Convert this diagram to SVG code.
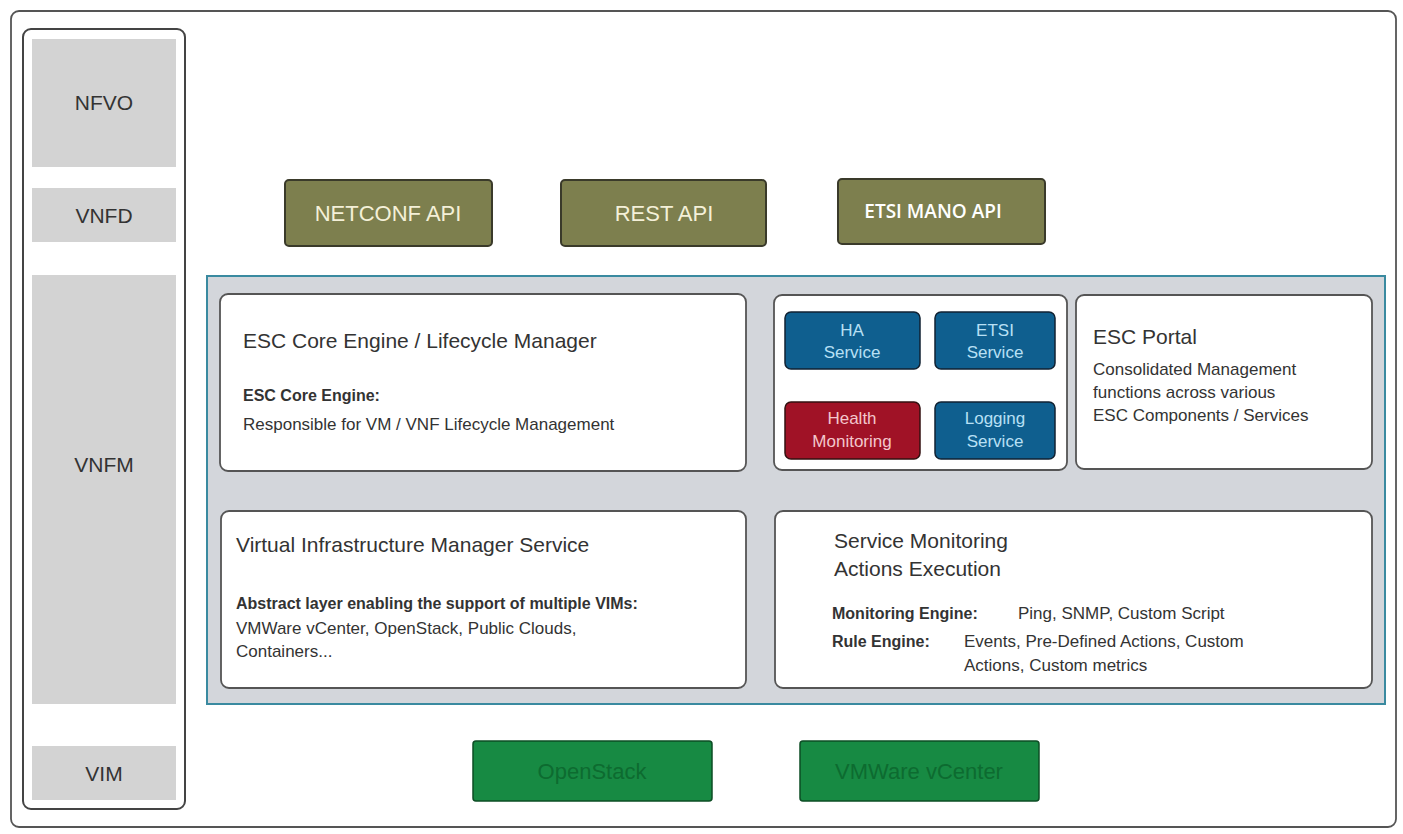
<svg xmlns="http://www.w3.org/2000/svg" width="1403" height="834" viewBox="0 0 1403 834">
<style>
text{font-family:"Liberation Sans",Arial,sans-serif;fill:#333}
.side{fill:#d3d3d3}
.sl{font-size:21px;text-anchor:middle}
.api{fill:#7d7f4e;stroke:#3a3a2a;stroke-width:2}
.apil{font-size:22px;fill:#f4f0d8;text-anchor:middle}
.card{fill:#fff;stroke:#555;stroke-width:1.8}
.blue{fill:#0f5f8f;stroke:#123;stroke-width:1.5}
.red{fill:#a01226;stroke:#311;stroke-width:1.5}
.sv{font-size:17px;fill:#b8e0f5;text-anchor:middle}
.rv{font-size:17px;fill:#f3c7cc;text-anchor:middle}
.vim{fill:#178a43;stroke:#0d4d25;stroke-width:1.5}
.viml{font-size:22px;fill:#0d6b30;text-anchor:middle}
.h{font-size:21px}
.b{font-size:16px;font-weight:bold}
.t{font-size:17px}
</style>
<rect x="11" y="11" width="1385" height="816" rx="8" fill="#fff" stroke="#555" stroke-width="1.8"/>
<rect x="23" y="29" width="162" height="780" rx="8" fill="#fff" stroke="#444" stroke-width="2"/>
<g id="nfvo"><rect class="side" x="32" y="39" width="144" height="128"/><text class="sl" x="104" y="110">NFVO</text></g>
<g id="vnfd"><rect class="side" x="32" y="188" width="144" height="54"/><text class="sl" x="104" y="223">VNFD</text></g>
<g id="vnfm"><rect class="side" x="32" y="275" width="144" height="429"/><text class="sl" x="104" y="472">VNFM</text></g>
<g id="vim"><rect class="side" x="32" y="746" width="144" height="54"/><text class="sl" x="104" y="781">VIM</text></g>
<g id="netconf"><rect class="api" x="285" y="180" width="207" height="66" rx="4"/><text class="apil" x="388" y="221">NETCONF API</text></g>
<g id="rest"><rect class="api" x="561" y="180" width="205" height="66" rx="4"/><text class="apil" x="664" y="221">REST API</text></g>
<g id="etsimano"><rect class="api" x="838" y="179" width="207" height="65" rx="4"/><text x="933" y="218" style="font-family:'Open Sans','DejaVu Sans',sans-serif;font-size:19px;font-weight:600;fill:#fff;text-anchor:middle">ETSI MANO API</text></g>
<rect id="vnfm-area" x="207" y="276" width="1178" height="428" fill="#d3d6db" stroke="#3a8aa0" stroke-width="2"/>
<g id="core"><rect class="card" x="220" y="294" width="526" height="177" rx="8"/>
<text class="h" x="243" y="348">ESC Core Engine / Lifecycle Manager</text>
<text class="b" x="243" y="401">ESC Core Engine:</text>
<text class="t" x="243" y="430">Responsible for VM / VNF Lifecycle Management</text></g>
<g id="services"><rect class="card" x="774" y="295" width="293" height="175" rx="8"/></g>
<g id="ha"><rect class="blue" x="785" y="312" width="135" height="57" rx="6"/><text class="sv" x="852" y="336">HA</text><text class="sv" x="852" y="358">Service</text></g>
<g id="etsi"><rect class="blue" x="935" y="312" width="120" height="57" rx="6"/><text class="sv" x="995" y="336">ETSI</text><text class="sv" x="995" y="358">Service</text></g>
<g id="health"><rect class="red" x="785" y="402" width="135" height="57" rx="6"/><text class="rv" x="852" y="424">Health</text><text class="rv" x="852" y="447">Monitoring</text></g>
<g id="logging"><rect class="blue" x="935" y="402" width="120" height="57" rx="6"/><text class="sv" x="995" y="424">Logging</text><text class="sv" x="995" y="447">Service</text></g>
<g id="portal"><rect class="card" x="1076" y="295" width="296" height="174" rx="8"/>
<text class="h" x="1093" y="344">ESC Portal</text>
<text class="t" x="1093" y="375">Consolidated Management</text>
<text class="t" x="1093" y="398">functions across various</text>
<text class="t" x="1093" y="421">ESC Components / Services</text></g>
<g id="vims"><rect class="card" x="221" y="511" width="525" height="177" rx="8"/>
<text class="h" x="236" y="552">Virtual Infrastructure Manager Service</text>
<text class="b" x="236" y="609">Abstract layer enabling the support of multiple VIMs:</text>
<text class="t" x="236" y="634">VMWare vCenter, OpenStack, Public Clouds,</text>
<text class="t" x="236" y="657">Containers...</text></g>
<g id="monitor"><rect class="card" x="775" y="511" width="597" height="177" rx="8"/>
<text class="h" x="834" y="548">Service Monitoring</text>
<text class="h" x="834" y="576">Actions Execution</text>
<text class="b" x="832" y="619">Monitoring Engine:</text><text class="t" x="1018" y="619">Ping, SNMP, Custom Script</text>
<text class="b" x="832" y="647">Rule Engine:</text><text class="t" x="964" y="647">Events, Pre-Defined Actions, Custom</text>
<text class="t" x="964" y="671">Actions, Custom metrics</text></g>
<g id="openstack"><rect class="vim" x="473" y="741" width="239" height="60" rx="3"/><text class="viml" x="592" y="779">OpenStack</text></g>
<g id="vcenter"><rect class="vim" x="800" y="741" width="239" height="60" rx="3"/><text class="viml" x="919" y="779">VMWare vCenter</text></g>
<g id="connectors"/>
</svg>
